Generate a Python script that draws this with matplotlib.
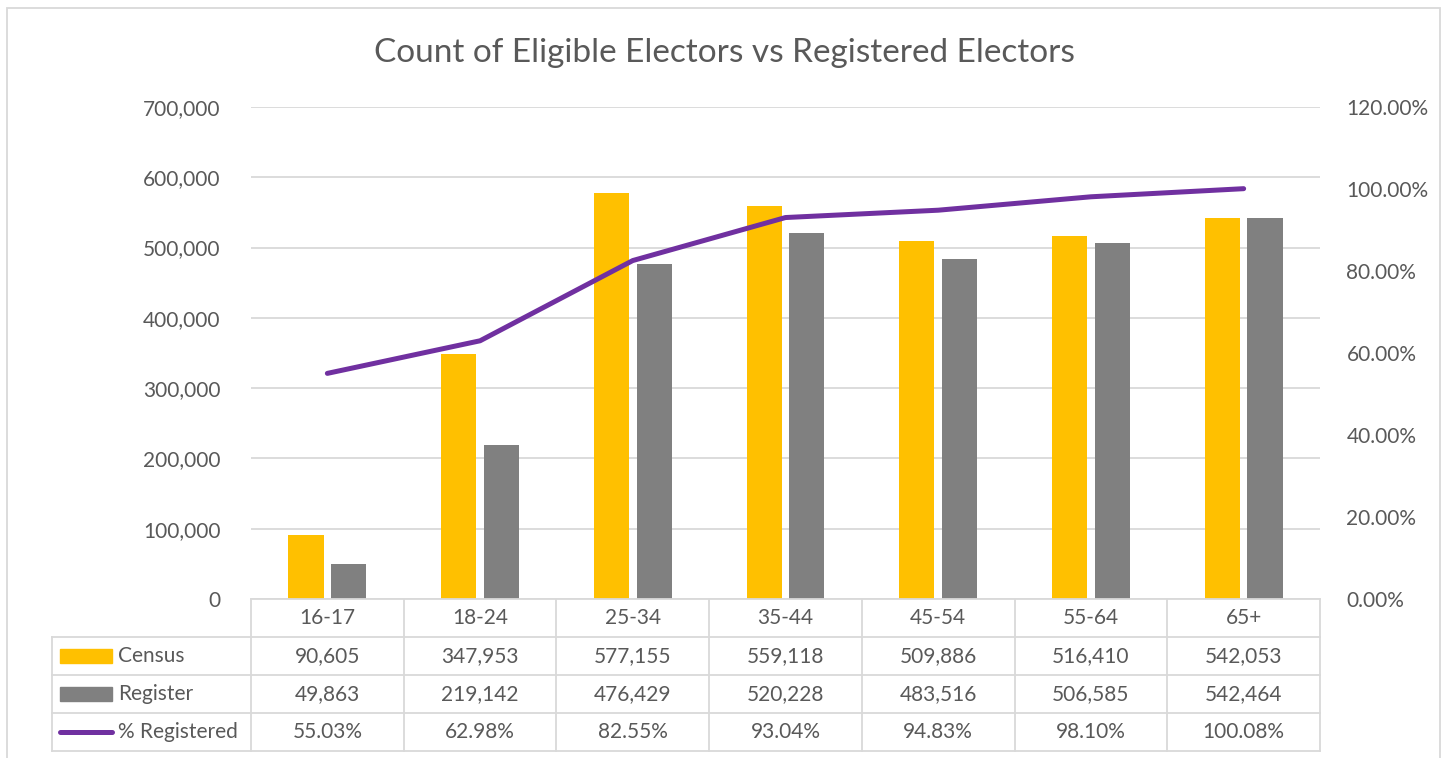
import matplotlib.pyplot as plt
from matplotlib.patches import Rectangle
from matplotlib.lines import Line2D
from matplotlib.ticker import FuncFormatter, MultipleLocator

categories = ['16-17', '18-24', '25-34', '35-44', '45-54', '55-64', '65+']
census = [90605, 347953, 577155, 559118, 509886, 516410, 542053]
register = [49863, 219142, 476429, 520228, 483516, 506585, 542464]
pct_registered = [55.03, 62.98, 82.55, 93.04, 94.83, 98.10, 100.08]

title = 'Count of Eligible Electors vs Registered Electors'
series_names = ['Census', 'Register', '% Registered']

C_CENSUS = '#FFC000'
C_REG = '#808080'
C_PCT = '#7030A0'
TXT = '#595959'
GRID = '#D9D9D9'
FS = 15

plt.rcParams['font.family'] = ['Lato', 'DejaVu Sans']

W, H = 1448, 758
fig = plt.figure(figsize=(W / 100, H / 100), dpi=100)


def fx(px):
    return px / W


def fy(py):
    return 1 - py / H


# outer chart border
fig.patches.append(Rectangle((fx(7), fy(759)), fx(1440 - 7), fy(8) - fy(759),
                             transform=fig.transFigure, fill=False,
                             edgecolor=GRID, linewidth=1.3))

x0, x1, ytop, ybot = 251, 1320, 107, 599
ax = fig.add_axes([fx(x0), fy(ybot), fx(x1 - x0), fy(ytop) - fy(ybot)])
ax2 = ax.twinx()

xs = list(range(len(categories)))
bw = 0.23
off = 0.14
ax.bar([x - off for x in xs], census, width=bw, color=C_CENSUS, zorder=3)
ax.bar([x + off for x in xs], register, width=bw, color=C_REG, zorder=3)
ax2.plot(xs, [p / 100 for p in pct_registered], color=C_PCT, linewidth=3.6,
         solid_capstyle='round', solid_joinstyle='round', zorder=4)

ax.set_xlim(-0.5, len(categories) - 0.5)
ax.set_ylim(0, 700000)
ax2.set_ylim(0, 1.2)
ax.yaxis.set_major_locator(MultipleLocator(100000))
ax2.yaxis.set_major_locator(MultipleLocator(0.2))
ax.yaxis.set_major_formatter(FuncFormatter(lambda v, p: f'{v:,.0f}'))
ax2.yaxis.set_major_formatter(FuncFormatter(lambda v, p: f'{v * 100:.2f}%'))
ax.grid(axis='y', color=GRID, linewidth=1.3, zorder=0)
ax.set_axisbelow(True)
for a in (ax, ax2):
    for s in a.spines.values():
        s.set_visible(False)
    a.tick_params(length=0, labelsize=FS, labelcolor=TXT)
ax.tick_params(axis='y', pad=22)
ax2.tick_params(axis='y', pad=19)
ax.set_xticks([])
ax2.set_xticks([])
ax.patch.set_visible(False)

fig.text(0.5, fy(53), title, ha='center', va='center', fontsize=24, color=TXT)

# data table under the plot
colw = (x1 - x0) / len(categories)
rows_y = [599, 637, 675, 713, 751]
lk = dict(transform=fig.transFigure, color=GRID, linewidth=1.3)
fig.add_artist(Line2D([fx(x0), fx(x1)], [fy(599), fy(599)], **lk))
for yy in rows_y[1:]:
    fig.add_artist(Line2D([fx(52), fx(x1)], [fy(yy), fy(yy)], **lk))
for k in range(len(categories) + 1):
    xx = x0 + k * colw
    fig.add_artist(Line2D([fx(xx), fx(xx)], [fy(599), fy(751)], **lk))
fig.add_artist(Line2D([fx(52), fx(52)], [fy(637), fy(751)], **lk))

for i, c in enumerate(categories):
    fig.text(fx(x0 + (i + 0.5) * colw), fy(618), c, ha='center', va='center',
             fontsize=FS, color=TXT)

row_vals = [[f'{v:,}' for v in census],
            [f'{v:,}' for v in register],
            [f'{v:.2f}%' for v in pct_registered]]
for r, vals in enumerate(row_vals):
    yc = (rows_y[r + 1] + rows_y[r + 2]) / 2
    for i, t in enumerate(vals):
        fig.text(fx(x0 + (i + 0.5) * colw), fy(yc), t, ha='center', va='center',
                 fontsize=FS, color=TXT)
    fig.text(fx(118), fy(yc), series_names[r], ha='left', va='center',
             fontsize=FS, color=TXT)

# legend keys
for r, col in enumerate([C_CENSUS, C_REG]):
    yc = (rows_y[r + 1] + rows_y[r + 2]) / 2
    fig.patches.append(Rectangle((fx(60), fy(yc + 7)), fx(52), fy(yc - 7) - fy(yc + 7),
                                 transform=fig.transFigure, color=col))
yc = (rows_y[3] + rows_y[4]) / 2
fig.add_artist(Line2D([fx(60), fx(112)], [fy(yc), fy(yc)], transform=fig.transFigure,
                      color=C_PCT, linewidth=3.6, solid_capstyle='round'))

fig.savefig('out.png', dpi=100, facecolor='white')
